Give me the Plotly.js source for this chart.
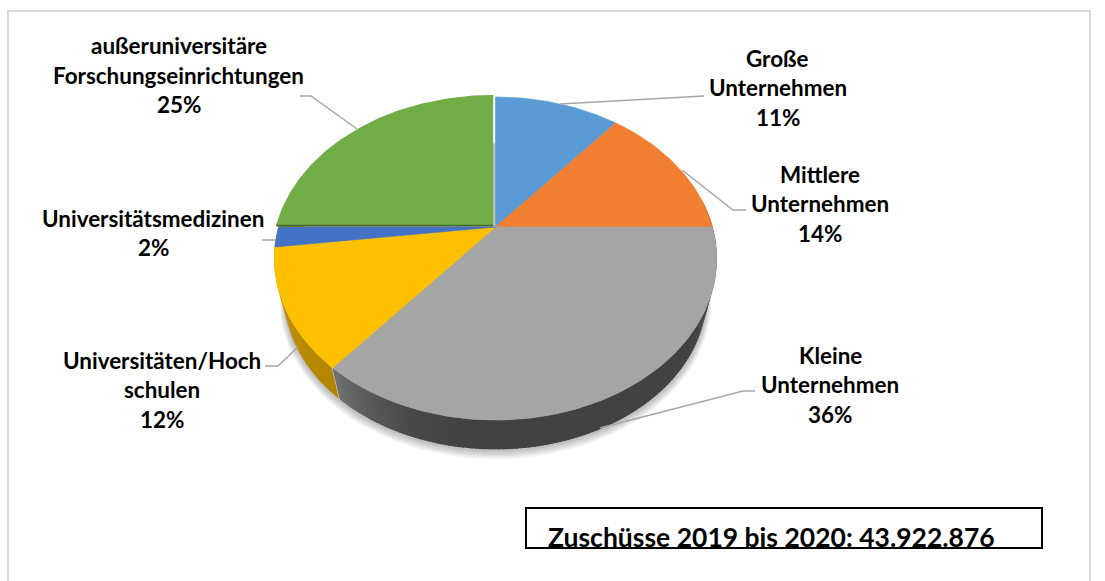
<!DOCTYPE html>
<html><head><meta charset="utf-8">
<script src="https://cdn.plot.ly/plotly-3.0.1.min.js"></script>
<style>html,body{margin:0;padding:0;background:#fff}#c{width:1105px;height:581px}</style>
</head><body><div id="c"></div>
<script>
// ---- data ----
const categories = ["Große Unternehmen","Mittlere Unternehmen","Kleine Unternehmen","Universitäten/Hochschulen","Universitätsmedizinen","außeruniversitäre Forschungseinrichtungen"];
const shares = [11,14,36,12,2,25];
const labelLines = [["Große","Unternehmen"],["Mittlere","Unternehmen"],["Kleine","Unternehmen"],["Universitäten/Hoch","schulen"],["Universitätsmedizinen"],["außeruniversitäre","Forschungseinrichtungen"]];
const boxText = "Zuschüsse 2019 bis 2020: 43.922.876";
// ---- style ----
const topColors = ["#5b9bd5","#f07f31","#a5a5a5","#ffc000","#4472c4","#70ad47"];
const FONT = "Lato, Carlito, sans-serif";
const labelCenter = [[777.5,58],[820,174],[830,355],[162,360],[153,218],[178.5,45.5]];
const leaders = [
 [[560,104],[692,96],[704,96]],
 [[682,170],[733,210],[746,210]],
 [[600,428],[743,391],[755,391]],
 [[298,347],[278,366],[265,366]],
 [[262,240],[275,240]],
 [[300,96],[311,96],[357,129]]
];
// ---- projection of the tilted disc ----
const cx=495.5, cy=227, a=217, k=0.195, b=155.4, wallScale=0.955, wallDrop=38;
function P(deg,s=1,dv=0){const t=deg*Math.PI/180,X=Math.sin(t),Y=Math.cos(t),w=1+k*Y;
  return [cx+s*a*X/w, cy+dv-s*b*Y/w];}
function lerp(c1,c2,f){return 'rgb('+c1.map((v,i)=>Math.round(v+(c2[i]-v)*f)).join(',')+')';}
const total=shares.reduce((p,q)=>p+q,0);
const bounds=[0]; shares.forEach((v,i)=>bounds.push(bounds[i]+v/total*360));
const traces=[];
// soft shadow under the wall
for(let i=6;i>=1;i--){const xs=[],ys=[];
  for(let d=0;d<=360;d+=3){const p=P(d,wallScale+0.0035*i,wallDrop+0.8*i+1);xs.push(p[0]);ys.push(p[1]);}
  traces.push({type:'scatter',mode:'lines',x:xs,y:ys,fill:'toself',fillcolor:'rgba(0,0,0,0.045)',line:{width:0},hoverinfo:'skip',showlegend:false});}
// wall
function wallColor(d){
  if(d<=bounds[3]){const f=Math.min(1,Math.max(0,(d-185)/34));return lerp([66,66,66],[112,112,112],f*f);}
  const f=Math.min(1,(d-bounds[3])/50);return lerp([178,134,0],[196,148,0],f);
}
for(let d=80;d<285;d+=1){const e=Math.min(d+1.6, d<bounds[3]&&d+1.6>bounds[3]?bounds[3]:d+1.6),p1=P(d),p2=P(e),q2=P(e,wallScale,wallDrop),q1=P(d,wallScale,wallDrop);
  const c=wallColor(d+0.5);
  traces.push({type:'scatter',mode:'lines',x:[p1[0],p2[0],q2[0],q1[0],p1[0]],y:[p1[1],p2[1],q2[1],q1[1],p1[1]],fill:'toself',fillcolor:c,line:{width:0},hoverinfo:'skip',showlegend:false});}
// top faces
shares.forEach((v,i)=>{
  const ex=i===5;const ox=ex?-2.3:0, oy=ex?-2:0;
  const xs=[cx+ox],ys=[cy+oy];
  for(let d=bounds[i];d<bounds[i+1]+0.01;d+=1){const p=P(Math.min(d,bounds[i+1]));xs.push(p[0]+ox);ys.push(p[1]+oy);}
  const e=P(bounds[i+1]);xs.push(e[0]+ox,cx+ox);ys.push(e[1]+oy,cy+oy);
  traces.push({type:'scatter',mode:'lines',name:categories[i],x:xs,y:ys,fill:'toself',fillcolor:topColors[i],line:{width:ex?0:0.6,color:topColors[i]},hoverinfo:'name+text',text:v+'%',showlegend:false});
  if(ex){const s=P(bounds[5]);traces.push({type:'scatter',mode:'lines',x:[s[0]+ox,cx+ox],y:[s[1]+oy+0.6,cy+oy+0.6],line:{width:1.6,color:'#46692d'},hoverinfo:'skip',showlegend:false});}
});
// leader lines
leaders.forEach(l=>traces.push({type:'scatter',mode:'lines',x:l.map(p=>p[0]),y:l.map(p=>p[1]),line:{width:1.5,color:'#a6a6a6'},hoverinfo:'skip',showlegend:false}));
// labels
const LH=29.5, FS=22.45;
const annotations=[];
labelLines.forEach((lines,i)=>{
  [...lines,shares[i]+'%'].forEach((t,j)=>annotations.push({xref:'x',yref:'y',x:labelCenter[i][0],y:labelCenter[i][1]+j*LH,text:'<b>'+t+'</b>',showarrow:false,xanchor:'center',yanchor:'middle',font:{family:FONT,size:FS,color:'#000'}}));
});
annotations.push({xref:'x',yref:'y',x:771,y:537,text:'<b>'+boxText+'</b>',showarrow:false,xanchor:'center',yanchor:'middle',font:{family:FONT,size:26.5,color:'#000'}});
const shapes=[
 {type:'rect',xref:'x',yref:'y',x0:8,y0:11,x1:1090,y1:590,line:{color:'#d9d9d9',width:2},layer:'below'},
 {type:'rect',xref:'x',yref:'y',x0:526,y0:508,x1:1042,y1:548,line:{color:'#000',width:2},layer:'above'}
];
Plotly.newPlot('c',traces,{
  width:1105,height:581,margin:{l:0,r:0,t:0,b:0},paper_bgcolor:'#fff',plot_bgcolor:'#fff',showlegend:false,
  xaxis:{range:[0,1105],visible:false,fixedrange:true},
  yaxis:{range:[581,0],visible:false,fixedrange:true},
  annotations,shapes
},{displayModeBar:false});
</script></body></html>
